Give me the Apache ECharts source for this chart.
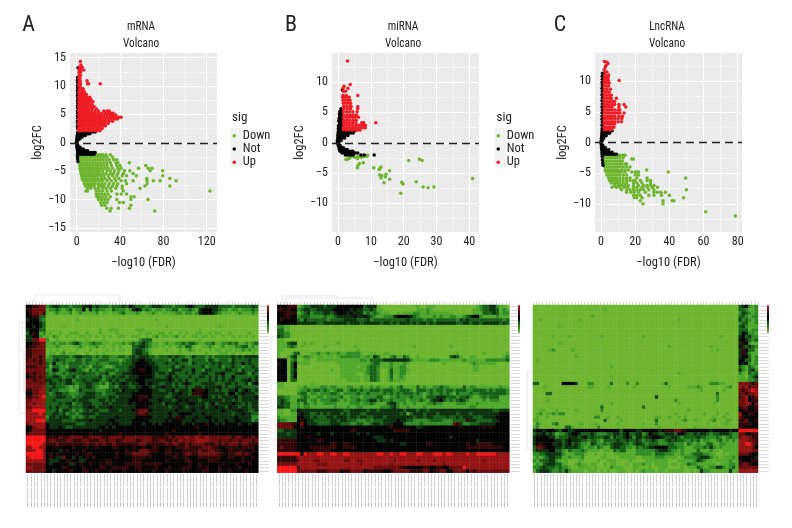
<!DOCTYPE html>
<html><head><meta charset="utf-8">
<style>html,body{margin:0;padding:0;background:#fff}#c{width:792px;height:528px}</style>
<script src="https://cdn.jsdelivr.net/npm/echarts@6/dist/echarts.min.js"></script>
</head><body><div id="c"></div>
<script>
// Rows: first number is log2FC, the rest are -log10(FDR) values read at that height.
const mrnaUp=[[2.1,2,4,6.5,9,11.5,14,16.5,19,21.5],[2.5,1.8,3.5,6,8.5,11,13.5,16,18.5,21,23.5],[3,2.2,4.5,7,9.5,12,14.5,17,19.5,22,24.5,26.5],[3.4,1.7,3.8,6,8.5,11,13.5,16,18.5,21,23.5,26,29],[3.8,2.3,4.5,7,9.5,12,14.5,17,19.5,22,24.5,27,30,33],[4.2,1.8,3.8,6,8.5,11,13.5,16,18.5,21,23.5,26,29,32,35,37.5],[4.5,2.5,5,7.5,10,12.5,15,17.5,20,22.5,25,28,31,34,37,39,41],[4.9,1.9,4,6.5,9,11.5,14,16.5,19,22,25,28,30.5,33,36],[5.2,2.4,4.5,7,9.5,12,14.5,17,20,23,26.5,29,32,33.5],[5.6,1.8,3.7,6,8.5,11,14,17,20,25,28,30],[6,2.3,4,6.5,9,11.5,14.5,18],[6.4,1.9,3.5,6,8,10,13,16],[6.8,2.5,4.3,6.5,9,11,14],[7.2,1.8,3.3,5,7.5,10,12.5,15],[7.6,2.4,4,6,8,10.5,13],[8,1.9,3.5,5.5,8,9.5,12],[8.5,2.3,4,6,7.5,9],[9,1.8,3,5,7],[9.5,2.5,4,6],[10,2,3.3],[10.4,2,3.5,10,11,21.7],[10.9,2.2,3.3,9.5],[11.4,1.9,3],[11.9,2.3,3.5],[12.4,2.1,3.3],[12.8,2.2,3.8,6.5],[13.3,2.5,3.5,5],[13.7,3.8],[14.3,3.3]];
const mrnaNot=[[13.2,1.2],[11.5,.8],[11,.7],[10.6,.9],[10.1,.7],[9.7,.9],[9.2,.7],[8.8,.9],[8.3,.7],[7.9,.9],[7.4,.7],[7,.9],[6.5,.7],[6.1,.9],[5.6,.7],[5.2,.9],[4.7,.7],[4.3,.9],[3.8,.7],[3.4,.9],[2.9,.7],[2.5,.9],[1.9,1,3,5,7,9,11,13,15,17],[1.6,.8,2.5,4.5,6.5,8.5,10.5,12],[1.3,.5,2,4,6,8],[1,.3,1.5,3,5],[.7,.2,1,3],[.4,0,1],[.1,-.2],[-.2,0,.6],[-.5,.2,1.2],[-.8,.3,1.5,3],[-1.1,.5,2,4,6],[-1.4,.7,2.5,4.5,6.5,8.5,10],[-1.7,1,3,5,7,9,11,13,15,17],[-2,.8,2,4,6,8,10,12,14,16],[-2.4,.7],[-2.8,.8],[-3.3,1]];
const mrnaDown=[[-2.1,2.5,5,7.5,10,12.5,15,17.5,20,22,24,27,31],[-2.5,2,4.5,7,9.5,12,14.5,17,19.5,22,25,28,33],[-3,2,4,6.5,9,11.5,14,16.5,19,21.5,24,27,30,34,37],[-3.5,2.5,4.5,7,9.5,12,14.5,17,19.5,22,25,28,31,36,38,48.6],[-4,2.8,5,7.5,10,12.5,15,17.5,20,22.5,25,28,32,37,40,63.7],[-4.5,3,5,7.5,10,12.5,15,17.5,20,23,26,29,33,38,41,57,66,69.5],[-4.9,3.5,6,8.5,11,13.5,16,18.5,21,24,28,31,35,39,44,49,67.7,79.4],[-5.4,4,6,8.5,11,13.5,16,18.5,21,24,27,31,34,38,43,52],[-5.8,4.5,6.5,9,11.5,14,16.5,19,22,25,29,33,37,42,46,55,79.4],[-6.3,5,7,9.5,12,14.5,17,19.5,23,26,30,35,39,64.6,86],[-6.7,6,8,10.5,13,15.5,18,21,24,28,32,36,41,45,52,65,70.8,77,91.7],[-7.2,7,9.5,12,14.5,17,20,23,26,30,34,38,46,65],[-7.6,8,11,13.5,16,20,22,25,29,33,37,42,63,86],[-8,10,13,17,20,24,27,31,36,42,58.5],[-8.5,8.5,10,18,21,24,28,32,43,123],[-9,18,20,23,26,29,37,41,46],[-9.5,18.5,21,24,27,31,50,53],[-10,20,23,26,29,37,50,65.8],[-10.5,22,25,28,39.4,43],[-11,23,26,50],[-11.5,27.7,31.7,38.5,48.6],[-12,30.8,72]];
const mirnaUp=[[2.1,1.7,2.6,3.5,4.4,5.3,6,6.7],[2.5,1.6,2.5,3.4,4.3,5.2,6.1,7,7.8,8.3],[2.9,1.8,2.7,3.6,4.5,5.5,6.5,7.4,8.3],[3.3,1.6,2.5,3.4,4.4,5.4,7.2,7.8,11.5],[3.7,1.8,2.7,3.6,4.6,5.5],[4.2,1.6,2.5,3.4,4.3,5.2,6.2],[4.6,1.8,2.8,3.7,4.6,5.6],[5.1,1.6,2.6,3.5,4.5,5.8],[5.6,1.8,2.8,3.8,6],[6,1.7,2.6,3.6,4,6],[6.5,1.6,2.3,3.2,3.8],[7,1.5,2.3,3,3.6],[7.5,1.4,2,2.8,3.4],[7.8,1.5,2.5,6],[8.5,1.6,2.3],[9,1.5,3],[9.3,1.8],[9.6,3.7],[13.5,2.9]];
const mirnaNot=[[8.7,1.3],[5.6,.9],[5.2,.6,1.1],[4.8,.4,1],[4.4,.5,1.1],[4,.3,.9,1.2],[3.6,.2,.8,1.2],[3.2,.5,1.1],[2.8,.1,.7,1.2],[2.4,.1,.7,1.3],[2,.1,.7,1.3,2,2.8,3.6,4.4,5.2],[1.6,0,.8,1.6,2.4,3.2,4,4.6],[1.2,-.1,.7,1.5,2.2,3],[.8,-.1,.6,1.3,2],[.4,-.2,.4,.9],[.1,-.2,.1],[-.2,-.1,.3],[-.5,.1,.7],[-.8,.3,1,1.6],[-1.1,.4,1.2,2,2.8],[-1.4,.6,1.4,2.2,3,3.8,4.5],[-1.7,1.2,2,2.8,3.6,4.4,5.2,6],[-2,2.2,3,3.8,4.6,7,8,11]];
const mirnaDown=[[-2.05,9],[-2.2,3.1,6.5,8.7],[-2.3,3.6,4.1,5.8,7.7],[-2.4,5,7],[-2.6,3.4,5.9],[-2.75,2.4,2.8],[-2.7,24.8],[-2.9,21.5,25.6],[-3.3,7.7],[-3.4,6.5],[-3.7,6.1],[-4,13.1],[-4.1,5.9,10.9],[-4.2,12.8],[-4.4,12.5],[-4.6,15.7],[-5.2,14.6],[-5.3,12.6],[-5.4,13.3],[-5.6,14.4],[-5.8,13.1],[-5.9,41],[-6,15.7],[-6.4,23.8],[-6.5,19.4],[-6.6,14],[-6.8,19.8],[-7.3,25.9,29.2],[-7.4,27.4],[-8.3,19.1]];
const lncUp=[[2.1,2,3.5,5,6],[2.5,1.8,3.2,4.8,6.3,7.5],[3,2,3.5,5,6.5,8],[3.4,1.8,3.2,4.8,6.5,8,10,12],[3.9,2,3.5,5,6.5,8.2,10,12.2],[4.3,1.8,3.3,4.8,6.4,8,10.5,12.5],[4.8,2,3.5,5,6.5,8,9.5,11,13.5],[5.3,1.8,3.3,4.8,6.3,8,10,11],[5.8,2,3.5,5,6.5,10.5,14.5],[6.2,1.8,3.3,4.8,6.5,8,10.5,13.5],[6.7,2,3.5,5,6.5,8],[7.2,1.8,3.3,4.8,6,9],[7.7,2,3.5,5,6],[8.2,1.8,3.3,4.8],[8.7,2,3.5,5.5],[9.2,1.8,3.3,4.5],[9.7,2,3.5,4.8],[10.1,1.9,3,4.3,10.6],[10.6,2.1,3.3,4.2],[11,2.5,4.5],[11.5,2.3,3.5],[11.9,1.9],[12.3,2.6],[12.6,3],[12.9,4],[13.1,3.5],[13.2,2]];
const lncNot=[[11.3,.9],[10.8,.7],[10.3,.8],[9.8,.6],[9.3,.8],[8.8,.6],[8.3,.8],[7.8,.6],[7.3,.8],[6.8,.6],[6.3,.8],[5.8,.6],[5.3,.8],[4.8,.6],[4.3,.7],[3.8,.6],[3.3,.8],[2.8,.6],[2.3,.7],[1.9,.6,2,3.5,5,6.5],[1.5,.5,2,3.5,5],[1.1,.4,1.6,3],[.7,.3,1.5],[.3,.1,.8],[-.1,0],[-.4,.2,1],[-.8,.3,1.5,2.5],[-1.2,.4,1.7,3.2,4.5],[-1.6,.6,2,3.5,5,6.5],[-1.9,.7,2.2,3.7,5.2,6.7,8.2,9],[-2.3,.7],[-2.8,.8],[-3.3,1],[-3.7,1.2]];
const lncDown=[[-2.1,2,3.5,5,6.5,8,10,11.5,13,14],[-2.5,2,3.5,5,6.5,8,9.5,11,13],[-2.7,18,19],[-3,1.8,3.3,4.8,6.3,8,9.5,11,12.5],[-3.5,1.8,3.3,4.8,6.3,8,9.5,11,12,14,15],[-4,2.2,3.7,5.2,6.7,8.2,9.7,11.2,13,15,17],[-4.5,2.5,4,5.5,7,8.5,10,12,14,16,26.7],[-4.8,3,4.5,6,7.5,9,10.5,12,14,18,20,21,22,39.3],[-5.3,3.5,5,6.5,8,9.5,11,13,15,20,22],[-5.8,4.5,6,7.5,9,11,13,15,17,21,27,49.5],[-6.2,5,6.5,8,9.5,11,13,15,17,19,20,23,27,29],[-6.6,6,8,9.5,11,13,15,19,21,24,29],[-7,8,10,12,14,16,19,22,25,27,29,31],[-7.3,6.5,9,11,13.5,15.5,19,21,24,27,30,33],[-7.7,12,15,17,19,21,23,25,28,31,50],[-8.1,15,17.5,19.5,22,26,31,33,35,37.7],[-8.6,19,21,23,28,31,35.4,40],[-9,19.5,21,24,48.3],[-9.5,23,36.3,41.6,42.6],[-10,24.6,36.3],[-11.3,61.3],[-12,78.6]];

// Tick labels of the volcano axes
const ticksA={x:[0,40,80,120],xm:[20,60,100],y:[-15,-10,-5,0,5,10,15],ym:[-12.5,-7.5,-2.5,2.5,7.5,12.5]};
const ticksB={x:[0,10,20,30,40],xm:[5,15,25,35],y:[-10,-5,0,5,10],ym:[-12.5,-7.5,-2.5,2.5,7.5,12.5]};
const ticksC={x:[0,20,40,60,80],xm:[10,30,50,70],y:[-10,-5,0,5,10],ym:[-12.5,-7.5,-2.5,2.5,7.5,12.5]};

// Heatmap cells: one string per row, one digit per column, 0 pale green, 5 black, 9 bright red.
const heatA=[
"5566772344 3332333445 3433323334 3543332344 4333233345 4333444433 3323333343",
"6677771223 2123122514 2322113222 1245423212 2122331223 2145554432 2122122232",
"5677861012 1112012111 1201101123 1112101121 0111122122 1245554321 1101211121",
"5566330000 0000000000 0000000000 0000000000 0000000000 0000000000 0000000000",
"4555320000 0000010000 0000000000 0000000001 0000000000 0000000000 0000000000",
"5555430000 0000000000 0000000000 0000000000 0000000000 0000000000 0000000000",
"5545430000 0100000000 0000000000 0000000000 0010000000 0000000010 0000000000",
"4555330000 0000000000 0010011100 0001110000 0000000000 0010000000 0000000000",
"3565120100 1001110010 0010000100 0000101100 1101001010 0110010110 0100000100",
"4455211021 0010001101 0101010011 0011001012 0110120100 1101101001 0010101010",
"4477992001 0000100010 0001000000 0000233300 0000000000 0010000000 0000000000",
"5566771121 2212342112 3221101112 1232343211 0121122323 3211223112 2323112123",
"5667771112 1000112101 1201001010 0033443211 0101012133 1001121012 0112233121",
"6677770101 0100010001 0000101011 0034432100 0010001012 1010010110 1101121211",
"6677770110 1201100010 0101000000 0034433100 0000001000 0000100011 1010000010",
"6677671233 3332344333 2323322233 2343444332 3334343322 4333232333 3343434444",
"6767672234 3322233233 2233322212 3344554433 3332433442 3333243233 3243333433",
"7777673252 2323333232 2322233323 3345555443 3343343332 4333334343 3343353433",
"6667773133 2213332321 3332112333 3445555544 3333423433 3334233342 3343323343",
"7777772254 2234533213 2322333233 3455665544 3332444333 5332443333 4433243334",
"6767773232 2323333433 3233422334 4455555543 4434433343 4334433445 3334443243",
"5667673344 3233423333 3342334344 3444555543 3345343334 3344343434 3353333334",
"7767774433 4344233433 4432343433 4445554444 4445434343 3433343434 3443344534",
"7777773443 3344323344 3323134345 4344554544 3344343454 3334444333 4434334245",
"7777783343 3321213344 3211133244 4334455434 4544343343 3443444453 4334433333",
"6677883433 2221124333 3222334435 4444555544 3344534443 5666544343 3445345434",
"5577883234 4332223344 4332333444 4455555544 4443445443 6665544444 3553454443",
"6677893334 4433233444 4333344344 4455666544 4433454444 4445543434 4445344445",
"7788883343 3333434443 3344343444 4555655444 5444345454 4434444463 4434344444",
"7878883333 4344233444 3334434444 4545555544 4354454445 5444345344 4454434344",
"7788883434 3334333445 4344454444 4445555444 4443445434 4445344544 3544344344",
"8899993334 2443232343 4433344434 4456777544 4444454444 5444444445 4444544334",
"8888983344 3423323444 4344444444 4446776444 4445445555 4445444444 4434454433",
"8888882443 4443232343 3444444544 4445555544 4445466544 4544554444 4445444422",
"8889993444 4333344445 4444455444 4455555444 4454555444 5444454544 5445544423",
"7888885444 4444433344 4444545544 4455545545 4555555455 4555655454 5555455455",
"5578885444 5433444444 4455454555 5555555555 5555555555 5655555555 5555555555",
"5677775555 5555555555 5545555555 5555555555 5555655555 5555555555 5555555555",
"6777775555 5555555556 5555555565 5555555555 5565555555 5565555555 5555555555",
"9999996666 7667777667 7776677776 7777777766 6667677787 7877877777 7767766676",
"9999996776 6677666776 6677677667 7776677766 7766768777 7888877767 7677677767",
"9999986667 6666666676 6767667666 6666776666 6676776676 7777666767 6777677666",
"8899885556 5555655565 5655556655 5565565566 5556566676 6667776655 6666566665",
"8889985555 4565555655 5555555555 6565777666 5566555666 6676677665 5665665565",
"9999985656 5555565566 5555555655 6677777655 5566565677 6677777766 5667767655",
"8999985654 4755454565 6555555655 5566665655 5555665665 5566666665 5665565565",
"8888885444 5566554455 5555665555 5566655555 5565555566 5555566655 5555565555",
"7777775455 5554456556 5565665555 6666656666 6555555556 5565555556 5556555655",
"8877775555 5665555655 5566556666 6556655556 5556555666 5565655565 5555655555",
"7777775545 5556555665 5655565556 5555655565 5565555655 5556655565 5655556555"];
const heatB=[
"5556661233 4444344455 5555553444 1000000000 0010011100 0000000000 1233442110",
"6656552344 3344444555 5545443343 1100000000 0011121000 0000000001 1233443121",
"5566661234 2333443455 5454442323 2111001011 1221121111 1110000001 1133343122",
"5566552333 2222322344 4445445432 1122245555 4321111212 1122112345 5211112111",
"5655553243 3333323333 4444333423 3333333334 3333233233 3333243433 3333333323",
"5555554444 4433444444 4344434444 4344343444 3434434344 4444334434 4344444343",
"2211000000 0000000000 0000000000 0000000000 0000000000 0000000000 0000000000",
"3311000000 0000000000 0000000000 0000000000 0000000000 0000000000 0000000000",
"3322000000 0000000000 0000000000 0000000000 0000000000 0000000000 0000000000",
"4322000000 0000000000 0000000000 0000000000 0000000000 0000000000 0000000000",
"1100000000 0000000000 0000000000 0000000000 0000000000 0000000000 0000000000",
"1113440010 1000000010 0000000000 0000000000 0000000000 0000000000 0000000000",
"1112320100 0000100000 0001000000 0000000000 0100000000 0010000000 0000000000",
"1100000000 0000000000 0000100000 0000000000 0000000000 0000000000 0000000000",
"1000133000 1121121121 1222210011 0011000000 0000000000 0000100000 0010000001",
"1001341122 1011011012 2222211214 3010231132 0010000000 0034310011 0000000012",
"5550230011 0011111111 1111122133 3344444444 2111112221 1111112111 1112222223",
"6550351111 0000000011 1111111123 3111211121 0000000000 1000000012 1111110000",
"5550350000 0000000001 1111011233 2111211220 0000000000 0000000001 1000000000",
"5550340000 0000001001 1111111233 2001311221 0000000000 0000000001 1000000000",
"5550350000 0000000001 1111001233 2001311220 0000000000 0000000000 0000000000",
"5550350000 0000000001 1111101133 2001301210 0000000000 0000000000 0000000000",
"5550330000 0000000000 0111101133 2001211110 0000000000 0000000000 0000000000",
"1100000000 1000000000 0000000000 0000000000 0000000000 0000000000 0000000000",
"1100001121 1112212211 1221121121 2111212311 1131211223 2211113122 1111111211",
"0000001223 2332321233 1233232233 3233322333 2133323233 2332333223 3332323332",
"0000002331 2212223321 2222322322 2232323233 3232123223 2321322232 2333333332",
"3322111232 1122122223 1122212222 3311223222 3222133344 4333233421 1232333111",
"3432113331 2212223321 2122322344 2322322221 2223213445 3232343211 1121222111",
"3433112132 1211222211 1122212232 1113442121 1211122322 1111222111 2111111111",
"4433112122 1111111211 1211221111 1222342112 1111211111 1111111122 1111111111",
"1100225444 4444444444 3344444344 3444444434 4434434444 4444444444 4444433444",
"1100114544 3343434443 4344433444 4444444341 3444344434 4444344434 4444444555",
"2111115544 3433344344 4344344334 4434444444 4344344333 3433434443 3344445555",
"3221115654 4333334434 4333222323 3344445443 3222223333 2223333644 3333344555",
"7777665754 4433334443 3322332234 4344455532 2223222222 2227642233 3444445555",
"7777755655 5555555555 5555555555 5555655555 5544555555 5555565555 5565655555",
"3344445555 5555555555 5566555555 5555566666 5555555555 5555555555 5555555555",
"4443445555 5545554555 5555455455 5555555555 5555555555 5555555555 5555555555",
"4444445556 5555555555 5555555554 4455555555 5555555555 5545555555 5555555555",
"6666665555 5566555555 5555555555 4445455555 5555555555 5555555555 4555555555",
"6666665555 5555556655 6655555555 5555555445 5555566555 5555555655 6666655555",
"6766665555 6666666655 6666555555 5555555555 5555555555 5555555666 6666666655",
"6666665555 5666665555 5555555555 5555555555 5555555555 5555555555 5555555555",
"9999999598 8899889988 9988888888 9988988998 8899888999 8998888988 9999998888",
"6666668888 8888888888 8888888888 8888888888 8888888888 8888888888 8888888888",
"6666667888 8778888888 7788778888 8888878888 8878888788 8888888888 8878888888",
"7777778888 8877788888 8888878888 8888788888 8888888888 7888888888 8888888888",
"9999996888 8888888888 8888888887 7777777665 5555665566 5577779888 8888888888",
"9999997777 7766677775 6677775666 6655677777 6666775667 7557777576 7777777777"];
const heatC=[
"0000000000 0000000000 0000000000 0000000000 0000000000 0000000000 0000345212",
"0000000000 0000000000 0010000000 0000000000 0000000000 0000000000 0000332112",
"0000000000 0000000000 0000000000 0000000000 0000000000 0000000000 0000243212",
"0000000000 0000000010 0000000000 0000000000 0000000000 0000000000 0000332122",
"0010000000 0000100000 0000000000 0000000000 0000010000 0000000000 0000423212",
"0000000000 0000000000 0000000000 0000000000 0000000000 0000000000 0000233112",
"0000000010 0000000000 0000000000 0000000000 0000000000 0000000000 0000342111",
"0000000000 0000000000 0000000000 0000000000 0000000000 0000000000 0000333122",
"0000000000 0000000000 0000000000 0000000000 0000000000 0000000000 0000354221",
"0000001000 0100000000 0100000000 0000100000 0000000000 0000000010 0000453422",
"0000000000 0000000000 0000000000 0000000000 0000000000 0000000000 0000554323",
"0000000010 0000000000 0000000000 0000000000 0000000000 0000000000 0000465211",
"0000000000 0000000000 0000000000 0000000000 0010000000 0000010000 0000543432",
"0000012000 0010000000 0000000000 0000000000 0000000000 0000000100 0000465331",
"0000000000 0000000000 0000000000 0000000000 0000000000 0000000000 0000464211",
"0000000000 0001000000 0000000000 0000000000 0000000000 0000000000 0000455312",
"0100000000 0000000000 0000000000 0000000000 0000000000 0000000000 0000553312",
"0000000000 0000000000 0000000000 0000000000 0000000000 0000000000 0000545212",
"0000000000 0000000000 0000100000 0000000000 0000000000 0000000000 0000321321",
"0000000000 0000000000 0000000000 0000000000 0000000000 0000000000 0000421342",
"0000000000 0000000000 0000000000 0000000000 0000010000 0000000000 0000210323",
"0000000000 0000000000 0000100000 0000000000 0000000000 0000000000 0000110234",
"0000000000 0000000000 0000000000 0000000000 0000000000 0000000000 0000111223",
"3300000005 5554000220 0000300002 0020000000 1300000000 0000022211 0000787767",
"0001000000 0000000110 0001000000 0100000000 0010000011 1210000000 1200878677",
"0000000000 0000000000 0000000000 0000000000 0000000000 0010000001 0000767898",
"0000330000 0000000000 0000000000 0000000000 0000000000 0000000300 0000776778",
"0000000000 0000000000 0000000000 0000000040 0000000000 0000000200 0000678567",
"0000100000 0000000000 0000000000 0000000000 0000200000 0000000200 0000778566",
"0000000000 0000000000 0000100000 0000000000 0000010000 0000001000 0000778857",
"0000000000 0000000000 0300000000 0000300000 0000000000 0000000000 0000677556",
"0011000100 0001000000 0200000000 0000000000 0000000010 0000000000 0000566556",
"0120112122 0000000000 0000000000 0000000000 0000100000 0001000100 1000855665",
"0100100000 0000000002 2001001000 0000000011 0010010100 0000001001 0000765555",
"1100000000 0000000000 0030000100 0000000030 0000001200 1000012000 1100667556",
"0210002300 0000110001 0000001000 0000100020 0000100000 0000100001 1000666655",
"1200000000 3310000000 2000000000 0000000001 0000000000 1000000000 0000665555",
"4554555435 5445555555 5555555355 5544555554 5666776655 5555545555 5455999999",
"3445343122 3455433343 2223344345 3344235443 3444355433 4344323344 4322775566",
"4555544233 3444345343 3344243345 4244344555 4334432333 3433222321 2322788766",
"4555555443 4544433233 2133334334 3343233432 2343433223 2312211231 2121888776",
"4565554453 4534322143 2232344433 2344323332 2233222132 1211331122 1111889976",
"3776555443 4444321221 3211344332 2132334455 5533322111 2223242121 1111888875",
"3444455332 1322232111 1011132331 1122222234 4432212111 1311121101 1111888877",
"2233444442 1112221001 0010011111 1122222133 3222112112 3332211001 0111777655",
"1212344331 1211120000 0110000111 1100111122 2111101222 2344421101 1121555554",
"2133344211 1000110000 1001110000 1000011111 1100011111 2432110111 1211655566",
"1213444331 1001211011 0010110001 0111211011 1101101132 2111111011 1221677655",
"2234333232 2100111101 0000211100 0110001001 1100001011 1321122442 1231777777",
"1344432232 4211110111 0101001110 0101211101 1011111001 0142211111 1411888888"];
const heatColors=['#6db52d','#4fa92a','#2d8b23','#166016','#0b2e0c','#000000','#300606','#6a0c0c','#961212','#f51515'];
// The sample and gene labels of the reference are too small to read; X marks the unreadable characters.
const sampleLabel='TCGA-XX-XXXX-01A-11R-XXXX-07';
const geneLabel='XXXXXXX';
const sigColors={Down:'#6db52d',Not:'#000000',Up:'#ee1c25'};
const FONT='"Liberation Sans Narrow","Roboto Condensed","Liberation Sans",sans-serif';
const INK='#222';

const pts=rows=>rows.flatMap(r=>r.slice(1).map(x=>[x,r[0]]));
const grid=[],xAxis=[],yAxis=[],series=[];
const fmt=v=>String(v).replace('-','\u2212');
function volcano(box,range,t,up,not,down,yGap){
  const g=grid.length;
  grid.push({left:box[0],top:53,width:box[1]-box[0],height:179,show:true,backgroundColor:'#ebebeb',borderWidth:0});
  xAxis.push({gridIndex:g,type:'value',min:range[0],max:range[1],name:'\u2212log10 (FDR)',nameLocation:'middle',nameGap:24,
    nameTextStyle:{fontFamily:FONT,fontSize:12.5,color:INK},axisLine:{show:false},splitLine:{show:false},
    axisTick:{length:3,lineStyle:{color:'#333',width:.8},customValues:t.x},
    axisLabel:{margin:4,fontFamily:FONT,fontSize:12,color:INK,customValues:t.x,formatter:fmt}});
  yAxis.push({gridIndex:g,type:'value',min:range[2],max:range[3],name:'log2FC',nameLocation:'middle',nameGap:yGap,
    nameTextStyle:{fontFamily:FONT,fontSize:12.5,color:INK},axisLine:{show:false},splitLine:{show:false},
    axisTick:{length:3,lineStyle:{color:'#333',width:.8},customValues:t.y},
    axisLabel:{margin:4,fontFamily:FONT,fontSize:12,color:INK,customValues:t.y,formatter:fmt}});
  const gl=(w,key,list)=>list.map(v=>({[key]:v,lineStyle:{color:'#fff',width:w,type:'solid'}}));
  series.push({type:'line',xAxisIndex:g,yAxisIndex:g,data:[],silent:true,z:1,
    markLine:{silent:true,z:1,symbol:'none',animation:false,label:{show:false},
      data:[...gl(.5,'xAxis',t.xm),...gl(.5,'yAxis',t.ym),...gl(1,'xAxis',t.x),...gl(1,'yAxis',t.y)]}});
  [['Down',down],['Not',not],['Up',up]].forEach(([n,rows])=>series.push({name:n,type:'scatter',xAxisIndex:g,yAxisIndex:g,
    data:pts(rows),symbolSize:3.5,itemStyle:{color:sigColors[n],opacity:1},silent:true,z:2}));
  series.push({type:'line',xAxisIndex:g,yAxisIndex:g,data:[],silent:true,z:3,
    markLine:{silent:true,z:6,symbol:'none',animation:false,label:{show:false},
      lineStyle:{color:'#222',width:1.3,type:[8,5]},data:[{yAxis:0}]}});
}
volcano([70,217],[-6.2,129.5,-15.7,15.8],ticksA,mrnaUp,mrnaNot,mrnaDown,25);
volcano([332,479],[-1.85,42.95,-14.7,14.8],ticksB,mirnaUp,mirnaNot,mirnaDown,25);
volcano([595,742],[-3.5,82.5,-14.6,14.6],ticksC,lncUp,lncNot,lncDown,25);

const visualMap=[];
function heat(left,right,rowsRaw,keyX){
  const rows=rowsRaw.map(r=>r.replace(/ /g,''));
  const cols=Math.max(...rows.map(r=>r.length));
  const g=grid.length,ix=xAxis.length,iy=yAxis.length;
  grid.push({left:left,top:305,width:right-left,height:167.7,show:false});
  const cx=Array(cols).fill(sampleLabel),cy=rows.map(()=>geneLabel);
  const none={show:false};
  xAxis.push({gridIndex:g,type:'category',data:cx,position:'bottom',axisLine:none,axisTick:none,splitLine:none,
    axisLabel:{interval:0,rotate:90,fontSize:2.1,margin:1,color:'#666',fontFamily:'Liberation Sans'}});
  xAxis.push({gridIndex:g,type:'category',data:cx,position:'top',axisLine:none,axisLabel:none,splitLine:none,
    axisTick:{show:true,length:3,interval:0,lineStyle:{color:'#aaa',width:.5}}});
  yAxis.push({gridIndex:g,type:'category',data:cy,inverse:true,position:'right',axisLine:none,axisTick:none,splitLine:none,
    axisLabel:{interval:0,fontSize:2.1,margin:1,color:'#666',fontFamily:'Liberation Sans'}});
  const data=[];
  rows.forEach((r,y)=>[...r].forEach((c,x)=>data.push([x,y,+c])));
  const si=series.length;
  series.push({type:'heatmap',xAxisIndex:ix,yAxisIndex:iy,data,silent:true,progressive:0,
    itemStyle:{borderColor:'rgba(255,255,255,0.08)',borderWidth:.4}});
  visualMap.push({type:'continuous',seriesIndex:si,min:0,max:9,dimension:2,calculable:false,realtime:false,hoverLink:false,
    left:keyX,top:305,itemWidth:2,itemHeight:28,show:true,text:null,padding:0,inRange:{color:heatColors}});
}
heat(26,258.3,heatA,267);
heat(277.3,509.3,heatB,518);
heat(533,758,heatC,767);

const text=(t,x,y,size,align,sx)=>({type:'text',x,y,scaleX:sx||1,silent:true,style:{text:t,fontFamily:FONT,fontSize:size,fill:INK,textAlign:align||'center',textVerticalAlign:'middle'}});
const poly=pts=>({type:'polyline',silent:true,shape:{points:pts},style:{stroke:'#d8d8d8',lineWidth:.6,fill:null}});
const keyBox=x=>({type:'rect',silent:true,z:-1,shape:{x,y:128,width:11.5,height:39},style:{fill:'#f2f2f2'}});
const graphic=[
  text('A',28.5,25,22),text('B',291,25,22),text('C',560,25,22),
  text('mRNA',141,27,13,'center',.87),text('Volcano',141,44,13,'center',.87),
  text('miRNA',403,27,13,'center',.87),text('Volcano',403,44,13,'center',.87),
  text('LncRNA',667,27,13,'center',.87),text('Volcano',667,44,13,'center',.87),
  text('sig',232,118,13,'left'),text('sig',496.5,118,13,'left'),
  keyBox(230.5),keyBox(494.5),
  poly([[35,303],[35,295],[120,295],[120,303]]),poly([[28,303],[28,301.5],[35,301.5]]),
  poly([[26,322],[19,322],[19,413],[26,413]]),poly([[22,322],[22,340],[26,340]]),poly([[19,350],[24,350],[24,392],[26,392]]),
  poly([[282,303],[282,296],[337,296],[337,303]]),poly([[286,303],[286,298],[373,298],[373,303]]),
  poly([[277,337],[271,337],[271,440],[277,440]]),poly([[272,420],[275,420],[275,450],[277,450]]),
  poly([[533,372],[527,372],[527,450],[533,450]]),poly([[529,430],[531,430],[531,462],[533,462]]),
  poly([[742,303],[742,301],[756,301],[756,303]])
];
const legendBase=left=>({left,top:129,orient:'vertical',data:['Down','Not','Up'],itemWidth:7,itemHeight:3.5,itemGap:0,
  padding:0,selectedMode:false,textStyle:{fontFamily:FONT,fontSize:12.5,color:INK,lineHeight:13.3,padding:0}});
const chart=echarts.init(document.getElementById('c'),null,{renderer:'canvas'});
chart.setOption({animation:false,backgroundColor:'#fff',tooltip:{show:false},grid,xAxis,yAxis,series,visualMap,graphic,
  legend:[legendBase(232.5),legendBase(496.5)]});
</script></body></html>
